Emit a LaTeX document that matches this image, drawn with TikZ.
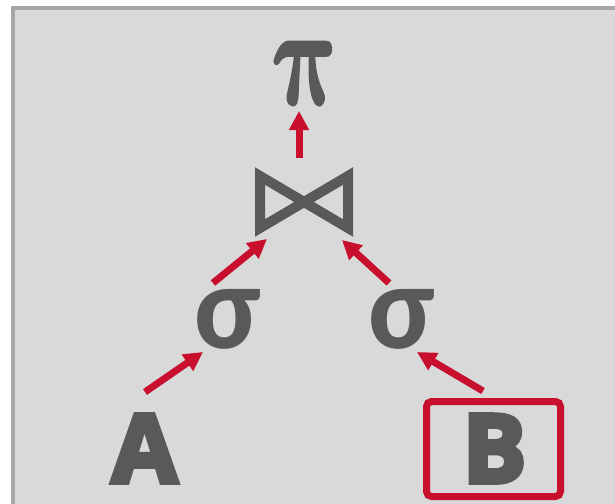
\documentclass[tikz,border=0pt]{standalone}
\usepackage{bm}
\usepackage{graphicx}
\usepackage{fontspec}
\newfontfamily\heavy{Open Sans}[BoldFeatures={FakeBold=5}]
\newfontfamily\greek{Carlito}
\usetikzlibrary{arrows.meta}
\definecolor{bg}{HTML}{D9D9D9}
\definecolor{frame}{HTML}{A6A6A6}
\definecolor{ink}{HTML}{595959}
\definecolor{accent}{HTML}{C8102E}
\newcommand{\thickpi}{\special{pdf:literal 2 Tr 0.2 w}$\bm{\pi}$\special{pdf:literal 0 Tr}}
\tikzset{
  glyph/.style={text=ink, inner sep=0pt, outer sep=0pt},
  flow/.style={draw=accent, line width=7pt, -{Triangle[width=19pt,length=19pt]}},
  bowtie/.style={draw=ink, line width=10pt, line join=miter},
  relbox/.style={draw=accent, line width=7pt, rounded corners=5pt, inner sep=0pt, outer sep=0pt},
  relname/.style={glyph, font=\heavy\bfseries\fontsize{95}{95}\selectfont},
  selname/.style={glyph, font=\greek\bfseries\fontsize{122}{122}\selectfont}
}
\begin{document}
\begin{tikzpicture}[x=1pt,y=-1pt]
\useasboundingbox (0,0) rectangle (615,503);
\clip (0,0) rectangle (615,503);
\draw[line width=4pt, draw=frame, fill=bg] (13,8) rectangle (640,530);
\node[glyph, xslant=-0.12, transform shape] (pi) at (306,73) {\resizebox{66pt}{62pt}{\thickpi}};
\node[glyph, minimum width=88pt, minimum height=52pt] (join) at (304,202) {};
\draw[bowtie] (join.north west) -- (join.south east) -- (join.north east) -- (join.south west) -- cycle;
\node[selname] (s1) at (228,319) {σ};
\node[selname] (s2) at (402,319) {σ};
\node[relname] (A) at (144.5,448.5) {A};
\node[relbox, minimum width=134pt, minimum height=95pt] (Bbox) at (493.5,449) {};
\node[relname] (B) at (494.5,448.5) {B};
\coordinate (piIn) at (299,111);
\coordinate (joinOut) at (299,158);
\coordinate (joinInL) at (267,239);
\coordinate (joinInR) at (342,240);
\coordinate (s1Out) at (213,283);
\coordinate (s2Out) at (389,283);
\coordinate (s1In) at (203,352);
\coordinate (s2In) at (417,352);
\coordinate (AOut) at (145,392);
\coordinate (BOut) at (483,391);
\draw[flow] (joinOut) -- (piIn);
\draw[flow] (s1Out) -- (joinInL);
\draw[flow] (s2Out) -- (joinInR);
\draw[flow] (AOut) -- (s1In);
\draw[flow] (BOut) -- (s2In);
\end{tikzpicture}
\end{document}
